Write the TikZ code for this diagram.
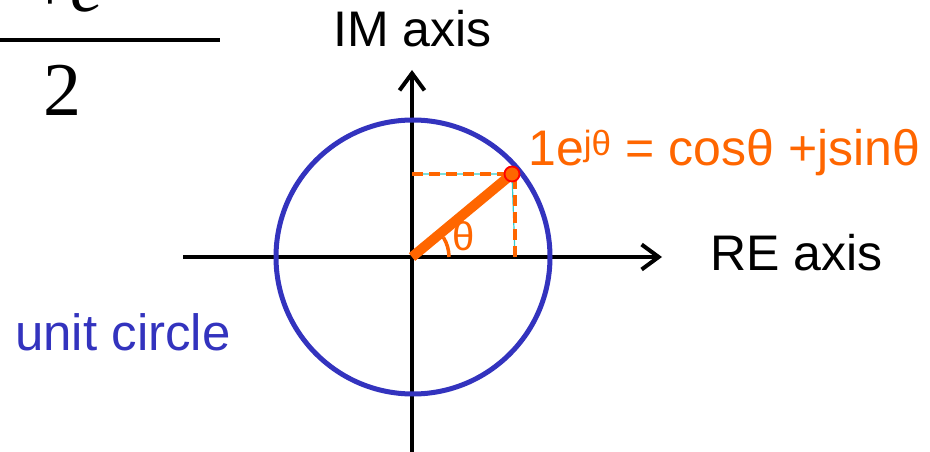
\documentclass[tikz,border=0pt]{standalone}
\usepackage{fontspec}
\setmainfont{Liberation Sans}
\newfontfamily\timesfont{Liberation Serif}
\usetikzlibrary{arrows.meta}
\definecolor{uorange}{RGB}{255,102,0}
\definecolor{ublue}{RGB}{51,51,190}
\definecolor{uteal}{RGB}{51,204,204}
\tikzset{
  lbl/.style={anchor=base west, inner sep=0pt, font=\fontsize{50}{56}\selectfont},
  axisline/.style={line width=4pt, -{Straight Barb[length=17pt,width=25pt]}},
  projdash/.style={uorange, line width=4pt, dash pattern=on 11pt off 6pt},
  projthin/.style={uteal, line width=1.2pt}
}
\begin{document}
\begin{tikzpicture}[x=1pt,y=-1pt]
\useasboundingbox (0,0) rectangle (930,452);
\clip (0,0) rectangle (930,452);
% fraction fragment
\node[anchor=base west, inner sep=0pt, font=\timesfont\fontsize{74}{80}\selectfont] (num) at (29,12) {+\textit{e}};
\coordinate (barL) at (0,40);
\coordinate (barR) at (220,40);
\draw[line width=4.5pt] (barL) -- (barR);
\node[anchor=base west, inner sep=0pt, font=\timesfont\fontsize{76}{80}\selectfont] (den) at (43,115) {2};
% axes
\coordinate (O) at (412,257);
\coordinate (xL) at (183,257);
\coordinate (xR) at (662,257);
\coordinate (yB) at (412,460);
\coordinate (yT) at (412,70);
\draw[axisline] (xL) -- (xR);
\draw[axisline] (yB) -- (yT);
% unit circle
\draw[ublue, line width=5pt] (413,257) circle[radius=137];
% projections
\coordinate (P) at (512,174);
\coordinate (Py) at (412,174);
\coordinate (Px) at (515,257);
\draw[projthin] (Py) -- (P) -- (Px);
\draw[projdash] (Py) -- (P);
\draw[projdash] (515,178) -- (Px);
% vector
\draw[uorange, line width=10pt] (O) -- (P);
\draw[uorange, line width=3.5pt] ([shift={(0:37)}]O) arc[start angle=0, end angle=-32, radius=37];
\node[circle, fill=uorange, draw=red, line width=1.8pt, minimum size=15pt, inner sep=0pt] (dot) at (P) {};
% labels
\node[lbl] (im) at (333,47) {IM axis};
\node[lbl] (re) at (710,270) {RE axis};
\node[lbl, text=uorange] (eq) at (528,165) {1e\textsuperscript{jθ} = cosθ +jsinθ};
\node[anchor=base west, inner sep=0pt, text=uorange, font=\fontsize{40}{46}\selectfont] (th) at (452,250) {θ};
\node[lbl, text=ublue, font=\fontsize{51}{56}\selectfont] (uc) at (15,350) {unit circle};
\end{tikzpicture}
\end{document}
